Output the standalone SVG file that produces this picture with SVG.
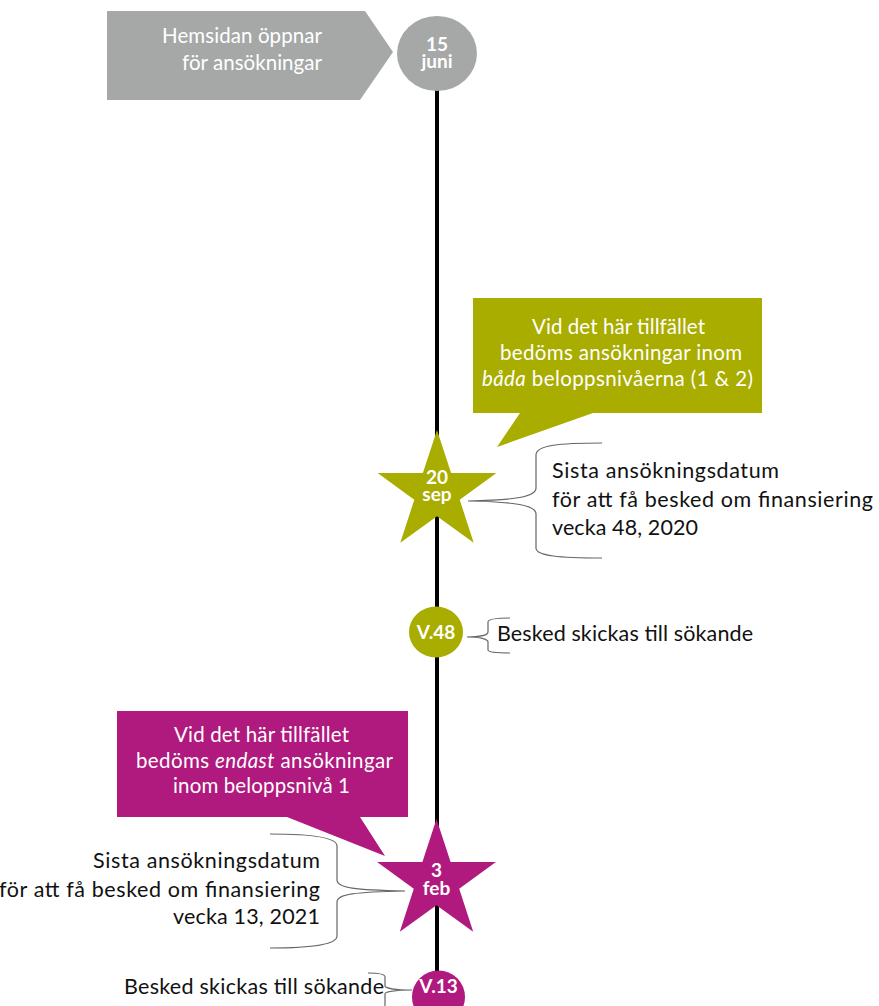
<svg xmlns="http://www.w3.org/2000/svg" width="879" height="1006" viewBox="0 0 879 1006">
<style>
.t{font-family:Lato,"Open Sans","Liberation Sans",sans-serif;}
.wt{fill:#fff;font-size:20.5px;text-anchor:middle;}
.bk{fill:#111;font-size:21.5px;}
.dt{fill:#fff;font-weight:bold;font-size:19px;text-anchor:middle;}
.br{fill:none;stroke:#666;stroke-width:1.2;}
.g{fill:#A8AD00;}
.m{fill:#B0197E;}
</style>
<rect width="879" height="1006" fill="#fff"/>
<g id="connectors">
<line x1="437" y1="90" x2="437" y2="1006" stroke="#000" stroke-width="4"/>
<path class="br" d="M602,443 C560,443 536,445 536,455 L536,488 C536,497 515,500 468,501 C515,502 536,505 536,514 L536,548 C536,556 560,558 602,558"/>
<path class="br" d="M510,618 C495,618 488,619 488,622 L488,632 C488,635 480,637 467,637 C480,637 488,639 488,642 L488,650 C488,652 495,653 510,653"/>
<path class="br" d="M270,834 C310,834 337,837 337,846 L337,880 C337,888 355,890 405,891 C355,892 337,894 337,902 L337,936 C337,945 310,948 270,948"/>
<path class="br" d="M368,973 C380,973 385,974 385,977 L385,986 C385,988 395,990 412,990 C395,990 385,992 385,994 L385,1006"/>
</g>
<g id="start">
<polygon points="107,11 365,11 393,52 360,100 107,100" fill="#A6A8A8"/>
<text class="t" x="322" y="43" fill="#fff" font-size="20.5" text-anchor="end" textLength="160" lengthAdjust="spacing">Hemsidan öppnar</text>
<text class="t" x="322" y="70" fill="#fff" font-size="20.5" text-anchor="end" textLength="140" lengthAdjust="spacing">för ansökningar</text>
<ellipse cx="437" cy="53.5" rx="40" ry="37.5" fill="#A6A8A8"/>
<text class="t dt" x="437" y="51" font-size="20.5">15</text>
<text class="t dt" x="437" y="68" font-size="20.5">juni</text>
</g>
<g id="callout-green">
<path class="g" d="M473,298 H762 V413 H593 L497,447 L520,413 H473 Z"/>
<text class="t wt" x="618.5" y="334" textLength="173" lengthAdjust="spacing">Vid det här tillfället</text>
<text class="t wt" x="621" y="360" textLength="242" lengthAdjust="spacing">bedöms ansökningar inom</text>
<text class="t wt" x="617.5" y="386" textLength="271" lengthAdjust="spacing"><tspan font-style="italic">båda</tspan> beloppsnivåerna (1 &amp; 2)</text>
</g>
<g id="star-20sep">
<polygon class="g" points="437,430 451.1,473.1 496.4,473.1 459.7,499.7 473.7,542.8 437,516.2 400.3,542.8 414.3,499.7 377.6,473.1 422.9,473.1"/>
<text class="t dt" x="437" y="484">20</text>
<text class="t dt" x="437" y="501">sep</text>
<text class="t bk" x="552" y="478" textLength="227" lengthAdjust="spacing">Sista ansökningsdatum</text>
<text class="t bk" x="552" y="507" textLength="321" lengthAdjust="spacing">för att få besked om finansiering</text>
<text class="t bk" x="552" y="535" textLength="146" lengthAdjust="spacing">vecka 48, 2020</text>
</g>
<g id="v48">
<ellipse class="g" cx="436" cy="632" rx="27" ry="25.5"/>
<text class="t dt" x="436" y="639" font-size="16.5">V.48</text>
<text class="t bk" x="497" y="641" textLength="256" lengthAdjust="spacing">Besked skickas till sökande</text>
</g>
<g id="callout-magenta">
<path class="m" d="M117,711 H408 V817 H360 L385,856 L287,817 H117 Z"/>
<text class="t wt" x="261.5" y="742" textLength="175" lengthAdjust="spacing">Vid det här tillfället</text>
<text class="t wt" x="264.5" y="768" textLength="257" lengthAdjust="spacing">bedöms <tspan font-style="italic">endast</tspan> ansökningar</text>
<text class="t wt" x="261.5" y="793" textLength="177" lengthAdjust="spacing">inom beloppsnivå 1</text>
</g>
<g id="star-3feb">
<polygon class="m" points="436.5,819 450.6,862.1 495.9,862.1 459.2,888.7 473.2,931.8 436.5,905.2 399.8,931.8 413.8,888.7 377.1,862.1 422.4,862.1"/>
<text class="t dt" x="436.5" y="877">3</text>
<text class="t dt" x="436.5" y="895">feb</text>
<text class="t bk" x="320" y="868" text-anchor="end" textLength="227" lengthAdjust="spacing">Sista ansökningsdatum</text>
<text class="t bk" x="320" y="897" text-anchor="end" textLength="321" lengthAdjust="spacing">för att få besked om finansiering</text>
<text class="t bk" x="320" y="924" text-anchor="end" textLength="147" lengthAdjust="spacing">vecka 13, 2021</text>
</g>
<g id="v13">
<circle class="m" cx="438.5" cy="997" r="26.5"/>
<text class="t dt" x="438.5" y="993" font-size="16.5">V.13</text>
<text class="t bk" x="384" y="994" text-anchor="end" textLength="260" lengthAdjust="spacing">Besked skickas till sökande</text>
</g>
</svg>
